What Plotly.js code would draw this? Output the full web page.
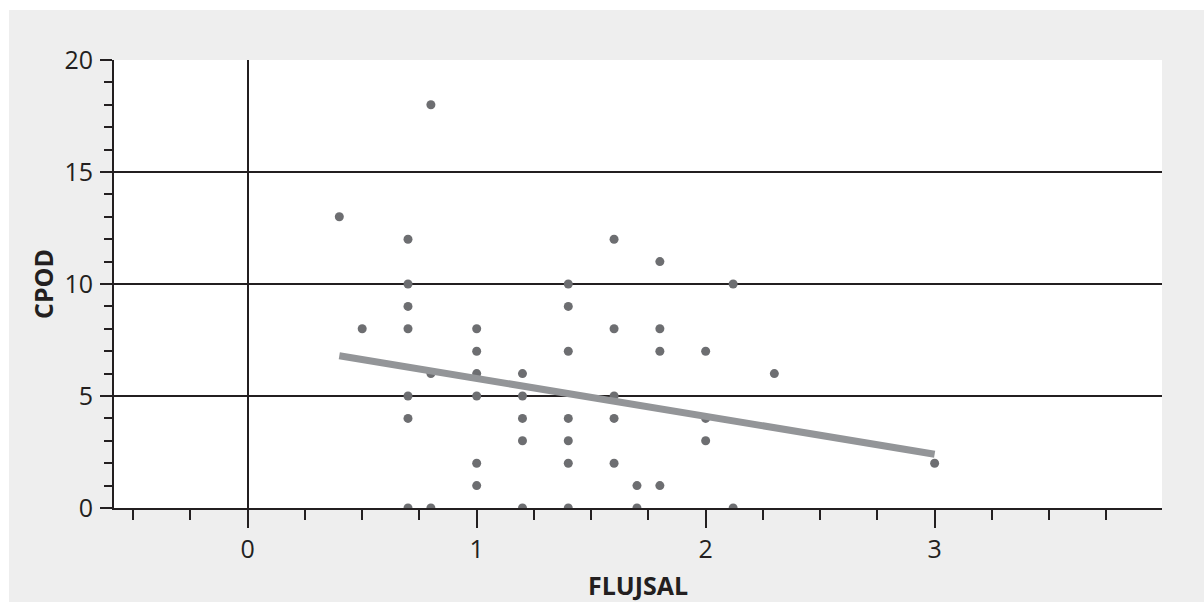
<!DOCTYPE html>
<html>
<head>
<meta charset="utf-8">
<script src="https://cdn.plot.ly/plotly-3.0.1.min.js"></script>
<style>
  html, body { margin: 0; padding: 0; background: #ffffff; width: 1204px; height: 602px; overflow: hidden; }
  #chart { position: absolute; left: 9px; top: 10px; width: 1195px; height: 592px; }
</style>
</head>
<body>
<div id="chart"></div>
<script>
// Scatter data: FLUJSAL (x) vs CPOD (y)
const flujsal = [
  0.4, 0.5,
  0.7, 0.7, 0.7, 0.7, 0.7, 0.7, 0.7,
  0.8, 0.8, 0.8,
  1.0, 1.0, 1.0, 1.0, 1.0, 1.0,
  1.2, 1.2, 1.2, 1.2, 1.2,
  1.4, 1.4, 1.4, 1.4, 1.4, 1.4, 1.4,
  1.6, 1.6, 1.6, 1.6, 1.6,
  1.7, 1.7,
  1.8, 1.8, 1.8, 1.8,
  2.0, 2.0, 2.0,
  2.12, 2.12,
  2.3,
  3.0
];
const cpod = [
  13, 8,
  12, 10, 9, 8, 5, 4, 0,
  18, 6, 0,
  8, 7, 6, 5, 2, 1,
  6, 5, 4, 3, 0,
  10, 9, 7, 4, 3, 2, 0,
  12, 8, 5, 4, 2,
  1, 0,
  11, 8, 7, 1,
  7, 4, 3,
  10, 0,
  6,
  2
];
// Fitted regression line endpoints
const fitX = [0.4, 3.0];
const fitY = [6.8, 2.4];
const xTickVals = [0, 1, 2, 3];
const xTickText = ['0', '1', '2', '3'];
const yTickVals = [0, 5, 10, 15, 20];
const yTickText = ['0', '5', '10', '15', '20'];

const ink = '#231f20';
const font = 'Open Sans, Noto Sans, Liberation Sans, sans-serif';

const traces = [
  {
    x: flujsal, y: cpod, type: 'scatter', mode: 'markers',
    marker: { color: '#6d6e71', size: 9 },
    hoverinfo: 'x+y', showlegend: false
  },
  {
    x: fitX, y: fitY, type: 'scatter', mode: 'lines',
    line: { color: '#939598', width: 7 },
    hoverinfo: 'skip', showlegend: false
  }
];

const layout = {
  width: 1195, height: 592,
  paper_bgcolor: '#eeeeee',
  plot_bgcolor: '#ffffff',
  margin: { l: 105, r: 42, t: 50, b: 94 },
  font: { family: font, color: ink, size: 25 },
  showlegend: false,
  xaxis: {
    range: [-0.584, 3.993],
    tickmode: 'array', tickvals: xTickVals, ticktext: xTickText,
    ticks: 'outside', ticklen: 18, tickwidth: 2, tickcolor: ink,
    minor: { dtick: 0.25, tick0: 0, ticks: 'outside', ticklen: 10, tickwidth: 2, tickcolor: ink, showgrid: false },
    showline: true, linecolor: ink, linewidth: 2,
    showgrid: false,
    zeroline: true, zerolinecolor: ink, zerolinewidth: 2,
    tickfont: { family: font, size: 25, color: ink },
    title: { text: '<b>FLUJSAL</b>', font: { family: font, size: 25, color: ink }, standoff: 14 },
    fixedrange: true
  },
  yaxis: {
    range: [0, 20],
    tickmode: 'array', tickvals: yTickVals, ticktext: yTickText,
    ticks: 'outside', ticklen: 12, tickwidth: 2, tickcolor: ink,
    minor: { dtick: 1, tick0: 0, ticks: 'outside', ticklen: 8, tickwidth: 2, tickcolor: ink, showgrid: false },
    showline: true, linecolor: ink, linewidth: 2,
    showgrid: true, gridcolor: ink, gridwidth: 2,
    zeroline: false,
    ticklabelstandoff: 2,
    tickfont: { family: font, size: 25, color: ink },
    title: { text: '<b>CPOD</b>', font: { family: font, size: 25, color: ink }, standoff: 4 },
    fixedrange: true
  }
};

Plotly.newPlot('chart', traces, layout, { displayModeBar: false, staticPlot: true });
</script>
</body>
</html>
